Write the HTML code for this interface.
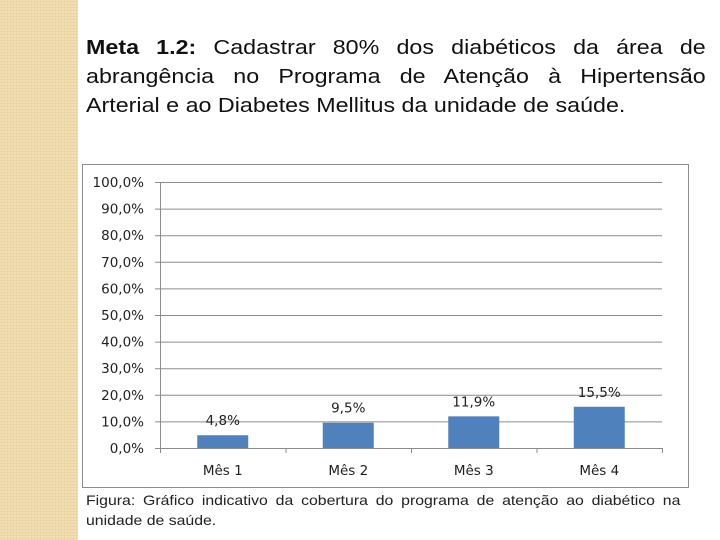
<!DOCTYPE html>
<html><head><meta charset="utf-8"><style>
body{margin:0;width:720px;height:540px;background:#fff;position:relative;overflow:hidden;font-family:"Liberation Sans",sans-serif}
#strip{position:absolute;left:0;top:0;width:78px;height:540px;background-color:#f2dfb4;background-image:radial-gradient(#e6cf9c 0.8px,transparent 1px);background-size:3px 3px}
#title{position:absolute;left:86px;top:33px;width:546px;font-size:20.5px;line-height:29px;color:#111;transform:scaleX(1.135);transform-origin:0 0}
#title .j{text-align:justify;text-align-last:justify;white-space:nowrap}
#cap{position:absolute;left:86px;top:490px;width:526px;font-size:14px;line-height:20px;color:#222;transform:scaleX(1.13);transform-origin:0 0}
#cap .j{text-align:justify;text-align-last:justify;white-space:nowrap}
svg{position:absolute;left:0;top:0}
</style></head><body>
<div id="strip"></div>
<div id="title"><div class="j"><b>Meta 1.2:</b> Cadastrar 80% dos diabéticos da área de</div><div class="j">abrangência no Programa de Atenção à Hipertensão</div><div>Arterial e ao Diabetes Mellitus da unidade de saúde.</div></div>
<svg id="chart" width="720" height="540"></svg>
<div id="cap"><div class="j">Figura: Gráfico indicativo da cobertura do programa de atenção ao diabético na</div><div>unidade de saúde.</div></div>
<script>
const categories=["Mês 1","Mês 2","Mês 3","Mês 4"];
const values=[4.8,9.5,11.9,15.5];
const valueLabels=["4,8%","9,5%","11,9%","15,5%"];
const ticks=[0,10,20,30,40,50,60,70,80,90,100];
const tickLabels=["0,0%","10,0%","20,0%","30,0%","40,0%","50,0%","60,0%","70,0%","80,0%","90,0%","100,0%"];
const svg=document.getElementById('chart');const NS="http://www.w3.org/2000/svg";
const x0=160,x1=662,y0=448,y1=182;
const y=v=>y0-(v/100)*(y0-y1);
const bw=(x1-x0)/categories.length;
const xc=i=>x0+bw*(i+0.5);
function mk(t,a,p){const e=document.createElementNS(NS,t);for(const k in a)e.setAttribute(k,a[k]);(p||svg).appendChild(e);return e;}
const frame=mk('rect',{x:82.5,y:164.5,width:606,height:323,fill:'#fff',stroke:'#8c8c8c'});


ticks.forEach((t,i)=>{
 const g=mk('line',{x1:x0-5,x2:x1,y1:y(t)+.5,y2:y(t)+.5,stroke:'#8c8c8c'});
 
 
 const l=mk('text',{x:144,y:y(t)+5,'text-anchor':'end','font-size':13.5,fill:'#222','font-family':'DejaVu Sans, sans-serif'});
 l.textContent=tickLabels[i];
 
 
});
const ax=mk('line',{x1:x0+.5,x2:x0+.5,y1:y1,y2:y0,stroke:'#8c8c8c'});


for(let i=0;i<=categories.length;i++){
 const tk=mk('line',{x1:x0+bw*i+.5,x2:x0+bw*i+.5,y1:y0,y2:y0+5,stroke:'#8c8c8c'});
 
 
}
categories.forEach((c,i)=>{
 const b=mk('rect',{x:xc(i)-25.5,y:y(values[i]),width:51,height:y0-y(values[i]),fill:'#4f81bd'});
 
 
 const v=mk('text',{x:xc(i),y:y(values[i])-10,'text-anchor':'middle','font-size':13.5,fill:'#222','font-family':'DejaVu Sans, sans-serif'});
 v.textContent=valueLabels[i];
 
 
 const cl=mk('text',{x:xc(i),y:475,'text-anchor':'middle','font-size':13.5,fill:'#222','font-family':'DejaVu Sans, sans-serif'});
 cl.textContent=c;
 
 
});
</script>
</body></html>
